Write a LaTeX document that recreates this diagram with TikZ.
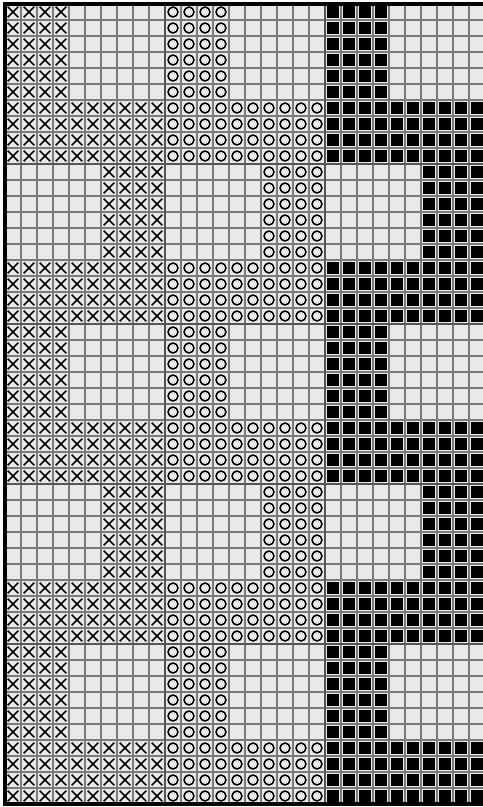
\documentclass[tikz,border=0pt]{standalone}
\usepackage{tikz}
\usetikzlibrary{calc}
\definecolor{cellbg}{HTML}{E9E9EB}
\definecolor{gridgray}{HTML}{7A7A7A}
\definecolor{majorgray}{HTML}{555555}
\tikzset{
  minorline/.style={draw=gridgray, line width=0.8pt},
  majorline/.style={draw=majorgray, line width=1.7pt},
  frameline/.style={draw=black, line width=2.2pt},
  crossmark/.style={draw=black, line width=1.1pt},
  ringmark/.style={draw=black, line width=1.1pt},
  boxmark/.style={fill=black}
}
% one chart cell, repeated in the cross, ring and box panels
\newcommand{\markcell}[2]{%
  \draw[crossmark] (#1+0.17,-#2-0.17) -- (#1+0.83,-#2-0.83)
                   (#1+0.17,-#2-0.83) -- (#1+0.83,-#2-0.17);
  \draw[ringmark] (#1+10.5,-#2-0.5) circle (0.31);
  \fill[boxmark] (#1+20.13,-#2-0.13) rectangle (#1+20.87,-#2-0.87);
}

\begin{document}
\begin{tikzpicture}[x=0.4cm, y=0.4cm]
  \useasboundingbox (-0.3125,0.25) rectangle (29.86,-50.1875);
  \fill[cellbg] (0,0) rectangle (30,-50);
  \foreach \i in {1,...,29} \draw[minorline] (\i,0) -- (\i,-50);
  \foreach \j in {1,...,49} \draw[minorline] (0,-\j) -- (30,-\j);
  \foreach \b/\c in {0/0,1/6,2/0,3/6,4/0} {
    \foreach \r in {0,...,5} {
      \foreach \k in {0,...,3} {
        \pgfmathtruncatemacro{\cl}{\c+\k}
        \pgfmathtruncatemacro{\rw}{10*\b+\r}
        \markcell{\cl}{\rw}
      }
    }
    \foreach \r in {6,...,9} {
      \foreach \cl in {0,...,9} {
        \pgfmathtruncatemacro{\rw}{10*\b+\r}
        \markcell{\cl}{\rw}
      }
    }
  }
  \foreach \i in {10,20} \draw[majorline] (\i,0) -- (\i,-50);
  \foreach \j in {10,20,30,40} \draw[majorline] (0,-\j) -- (30,-\j);
  \draw[frameline] (0,0) rectangle (30,-50);
\end{tikzpicture}
\end{document}
